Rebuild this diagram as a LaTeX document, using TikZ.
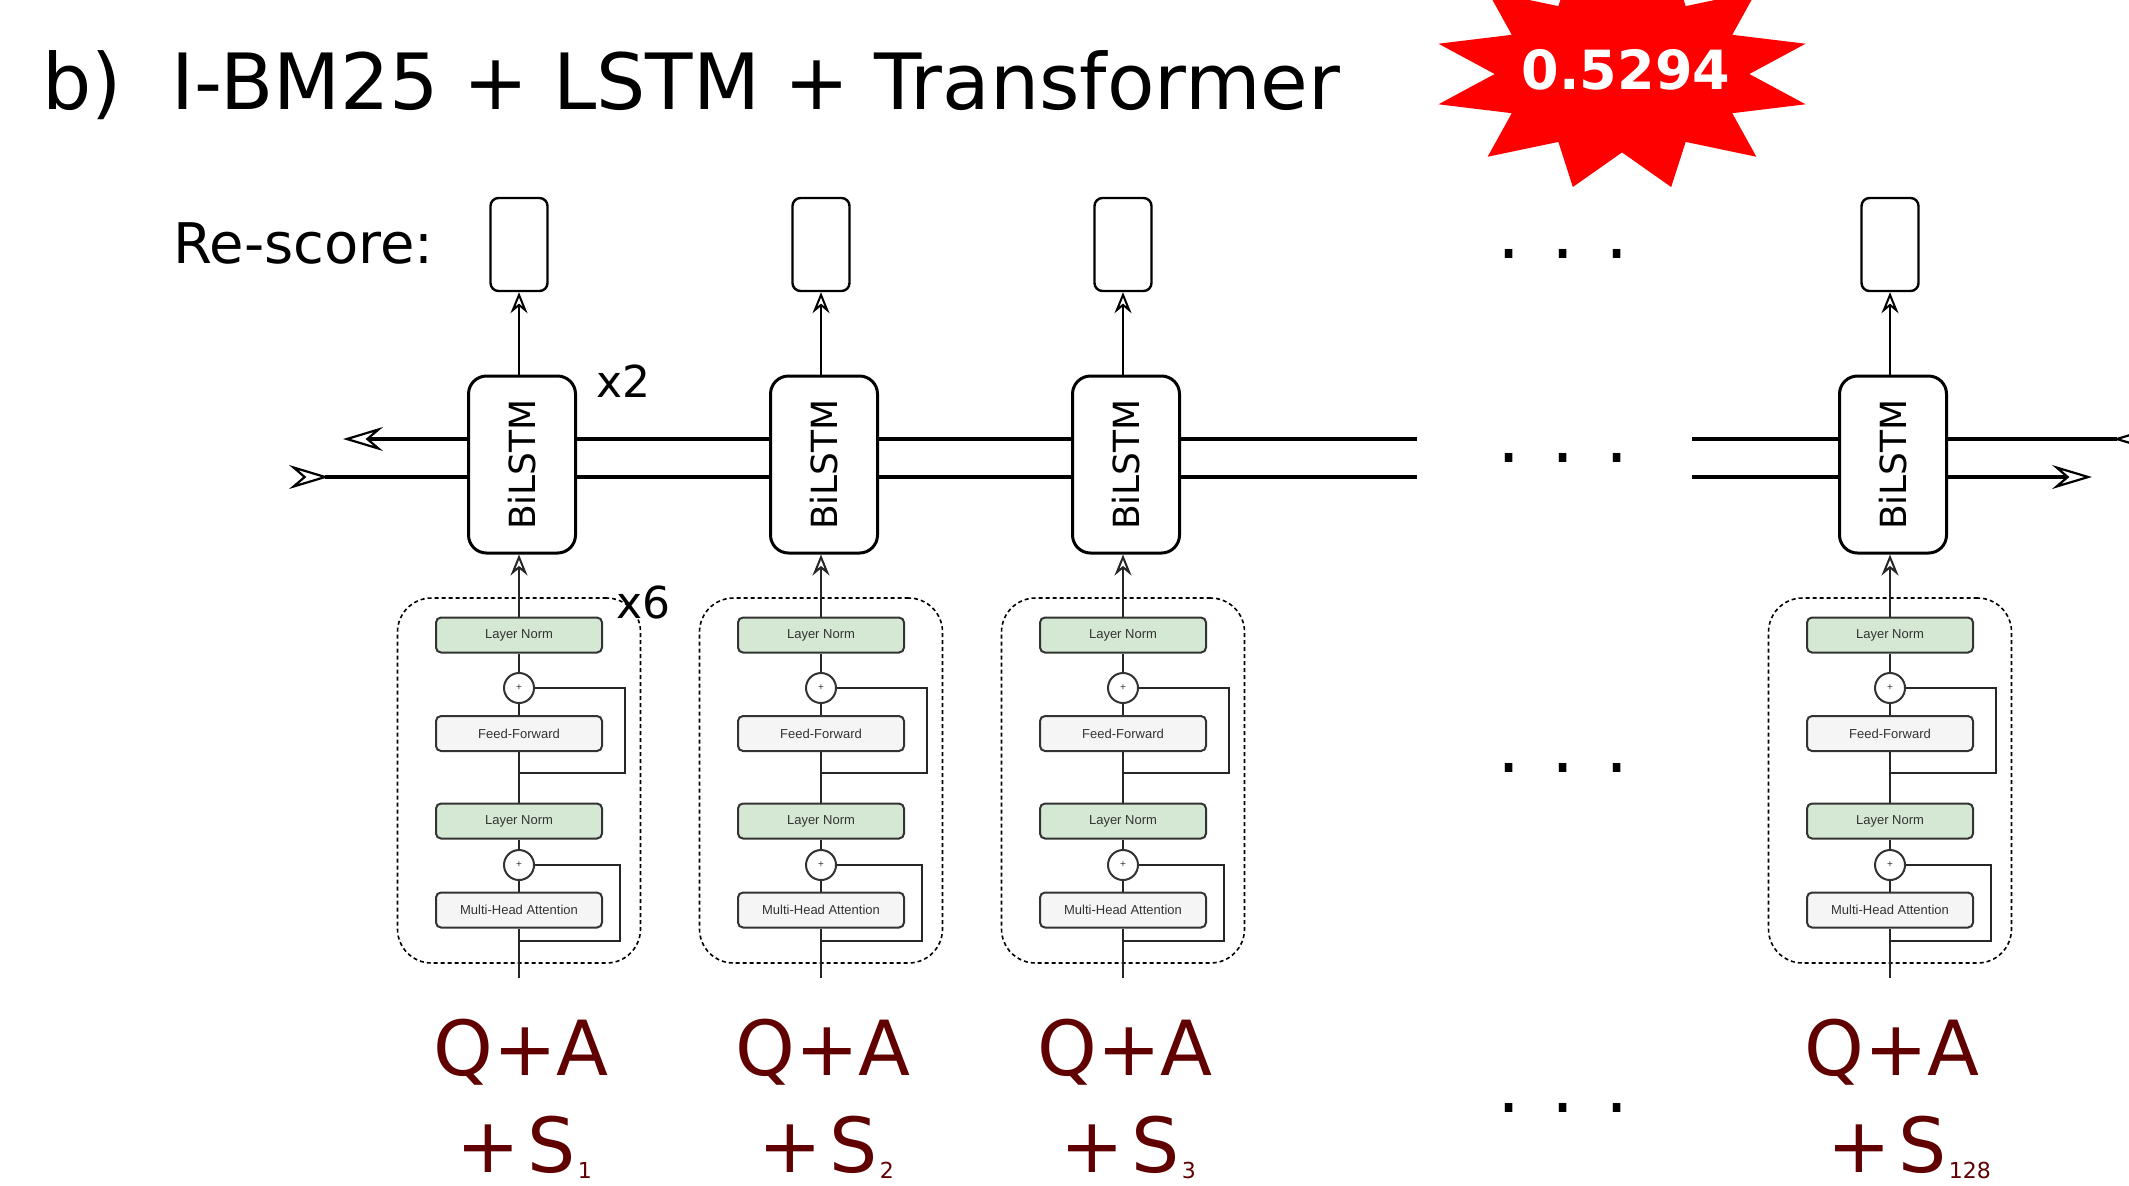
\documentclass[tikz,border=0pt]{standalone}
\usepackage{fontspec}
\setmainfont{DejaVu Sans}
\newfontfamily\arialfont{Liberation Sans}
\usetikzlibrary{arrows.meta,calc}
\definecolor{qacol}{RGB}{96,0,0}
\definecolor{lngreen}{HTML}{D5E8D4}
\definecolor{ffgray}{HTML}{F5F5F5}
\definecolor{tgray}{HTML}{333333}
\tikzset{
  bigtip/.tip={Stealth[open,length=20pt,width=12pt,inset=7pt,line width=1.1pt]},
  smalltip/.tip={Stealth[open,length=10.5pt,width=8.5pt,inset=3.5pt,line width=1pt]},
  hline/.style={line width=2pt},
  vline/.style={line width=1.4pt},
  tline/.style={line width=1pt, draw=black!85},
  rsbox/.style={draw, line width=1.2pt, rounded corners=4pt, minimum width=28.5pt, minimum height=46.5pt, inner sep=0},
  lstmbox/.style={draw, line width=1.5pt, rounded corners=9pt, minimum width=53.5pt, minimum height=88.5pt, inner sep=0},
  lstmtext/.style={rotate=90, font=\fontsize{18}{20}\selectfont, inner sep=0},
  dashbox/.style={draw, line width=0.8pt, dash pattern=on 2pt off 1.5pt, rounded corners=17pt, minimum width=121.5pt, minimum height=182.5pt, inner sep=0},
  lnbox/.style={draw=tgray, line width=1pt, fill=lngreen, rounded corners=2.5pt, minimum width=83pt, minimum height=17.5pt, inner sep=0, text=tgray, font=\arialfont\fontsize{6.5}{7}\selectfont},
  ffbox/.style={lnbox, fill=ffgray},
  pluscirc/.style={circle, draw=tgray, line width=1pt, fill=white, minimum size=15pt, inner sep=0, text=tgray, font=\arialfont\fontsize{5}{5}\selectfont},
  qa/.style={text=qacol, font=\fontsize{38}{40}\selectfont, inner sep=0, anchor=base, text depth=0pt},
  qasub/.style={text=qacol, font=\fontsize{11}{12}\selectfont, inner sep=0, anchor=base west, text depth=0pt},
  dots/.style={font=\fontsize{36.5}{38}\selectfont, inner sep=0, anchor=base},
  lbl/.style={font=\fontsize{22}{24}\selectfont, inner sep=0, anchor=base west}
}
\newcommand{\tblock}[2]{%
  \node[dashbox] (tb#1) at (#2,780.5) {};
  \node[lnbox] (lnA#1) at (#2,635) {Layer Norm};
  \node[pluscirc] (pA#1) at (#2,688) {+};
  \node[ffbox] (ff#1) at (#2,733.5) {Feed-Forward};
  \node[lnbox] (lnB#1) at (#2,821) {Layer Norm};
  \node[pluscirc] (pB#1) at (#2,865) {+};
  \node[ffbox] (mha#1) at (#2,910) {Multi-Head Attention};
  \coordinate (in#1) at (#2,978);
  \coordinate (rA#1) at (#2,773);
  \coordinate (rB#1) at (#2,941);
  \draw[tline] (in#1) -- (mha#1.south);
  \draw[tline] (mha#1.north) -- (pB#1.south);
  \draw[tline] (pB#1.north) -- (lnB#1.south);
  \draw[tline] (lnB#1.north) -- (ff#1.south);
  \draw[tline] (ff#1.north) -- (pA#1.south);
  \draw[tline] (pA#1.north) -- (lnA#1.south);
  \draw[tline] (pA#1.east) -- ++(90,0) |- (rA#1);
  \draw[tline] (pB#1.east) -- ++(85,0) |- (rB#1);
}
\begin{document}
\begin{tikzpicture}[x=0.5pt,y=-0.5pt]
\useasboundingbox (0,0) rectangle (2129,1185);
\clip (0,0) rectangle (2129,1185);
\fill[white] (0,0) rectangle (2129,1185);

% title
\node[anchor=base west, font=\fontsize{38.8}{40}\selectfont, inner sep=0] (title) at (42,109) {b)\hspace{25pt}I-BM25 + LSTM + Transformer};

% star
\fill[red] ({1622+190*cos(15)},{74-117*sin(15)})
  \foreach \k in {1,...,23}{ -- ({1622+190*(1-0.33*mod(\k,2))*cos(15+15*\k)},{74-117*(1-0.33*mod(\k,2))*sin(15+15*\k)}) } -- cycle;
\node[anchor=base, text=white, font=\bfseries\fontsize{27}{28}\selectfont, inner sep=0] (score) at (1626,89) {0.5294};

% Re-score label
\node[anchor=base west, font=\fontsize{28}{30}\selectfont, inner sep=0] (rescore) at (173,263) {Re-score:};

% columns
\foreach \i/\L/\s in {1/519/1, 2/821/2, 3/1123/3, 4/1890/128}{
  \node[rsbox] (r\i) at (\L,244.5) {};
  \node[lstmbox] (b\i) at ({\L+3},464.5) {};
  \node[lstmtext] (bt\i) at (b\i) {BiLSTM};
  \draw[vline,-{smalltip}] (b\i.north -| r\i) -- (r\i.south);
  \tblock{\i}{\L}
  \draw[tline,-{smalltip}] (lnA\i.north) -- (lnA\i.north |- b\i.south);
  \node[qa] (qa\i) at ({\L+2},1075) {Q+A};
  \node[qa] (s\i) at ({\L-3},1172) {+\kern4pt S};
  \node[qasub] (ss\i) at ($(s\i.base east)+(1,6)$) {\s};
}

\node[lbl] (x2) at (596,397) {x2};
\node[lbl] (x6) at (616,618) {x6};

% horizontal recurrent lines
\coordinate (yU) at (0,439);
\coordinate (yL) at (0,477);
\coordinate (lU) at (343,439);
\coordinate (lL) at (289,477);
\coordinate (mU) at (1417,439);
\coordinate (mL) at (1417,477);
\coordinate (nU) at (1692,439);
\coordinate (nL) at (1692,477);
\coordinate (rU) at (2153,439);
\coordinate (rL) at (2092,477);

\draw[hline,-{bigtip}] (b1.west |- yU) -- (lU);
\draw[hline,{bigtip[reversed]}-] (lL) -- (b1.west |- yL);
\draw[hline] (b1.east |- yU) -- (b2.west |- yU);
\draw[hline] (b1.east |- yL) -- (b2.west |- yL);
\draw[hline] (b2.east |- yU) -- (b3.west |- yU);
\draw[hline] (b2.east |- yL) -- (b3.west |- yL);
\draw[hline] (b3.east |- yU) -- (mU);
\draw[hline] (b3.east |- yL) -- (mL);
\draw[hline] (nU) -- (b4.west |- yU);
\draw[hline] (nL) -- (b4.west |- yL);
\draw[hline,{bigtip[reversed]}-] (rU) -- (b4.east |- yU);
\draw[hline,-{bigtip}] (b4.east |- yL) -- (rL);

% dots
\node[dots] (d1) at (1563,258) {. . .};
\node[dots] (d2) at (1563,462) {. . .};
\node[dots] (d3) at (1563,772) {. . .};
\node[dots] (d4) at (1563,1112) {. . .};
\end{tikzpicture}
\end{document}
